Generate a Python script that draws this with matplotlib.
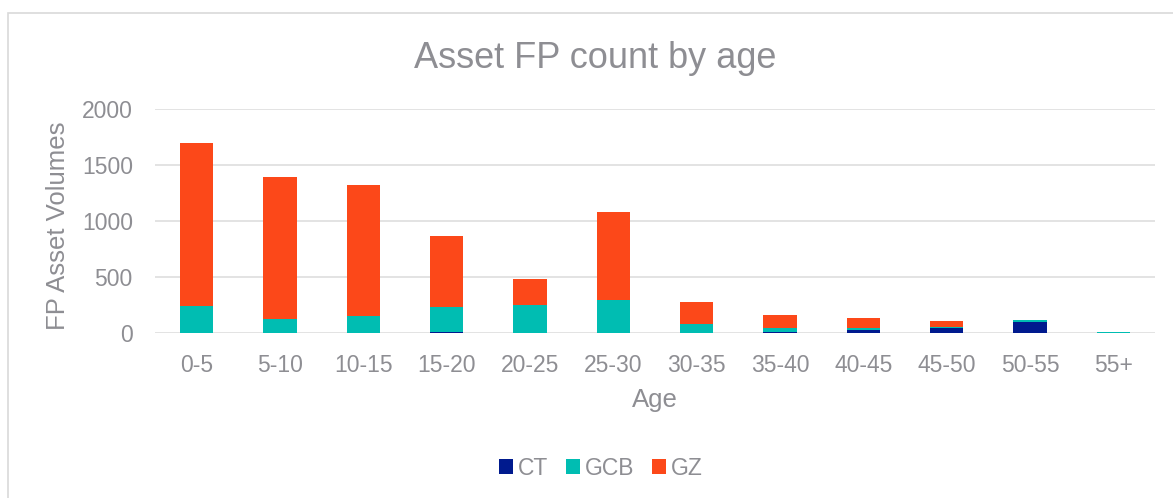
import matplotlib
matplotlib.use("Agg")
import matplotlib.pyplot as plt
import numpy as np
from matplotlib.patches import Rectangle

categories = ["0-5", "5-10", "10-15", "15-20", "20-25", "25-30",
              "30-35", "35-40", "40-45", "45-50", "50-55", "55+"]
ct = [0, 0, 0, 8, 0, 0, 0, 10, 24, 48, 98, 0]
gcb = [245, 125, 155, 227, 253, 295, 83, 38, 18, 3, 21, 5]
gz = [1455, 1270, 1170, 631, 232, 785, 191, 110, 89, 59, 0, 0]
series_names = ["CT", "GCB", "GZ"]
colors = ["#001A8E", "#00BDB2", "#FC4819"]
yticks = [0, 500, 1000, 1500, 2000]

plt.rcParams['font.family'] = ['Liberation Sans', 'DejaVu Sans']
txt = "#8E8E93"
grid = "#E0E0E0"

W, H = 1173, 498
fig = plt.figure(figsize=(W / 100, H / 100), dpi=100)

# outer chart border
fig.patches.append(Rectangle((8 / W, -0.1), 1.2, 1 - 13 / H + 0.1,
                             transform=fig.transFigure, fill=False,
                             edgecolor="#D9D9D9", linewidth=1.2))

ax = fig.add_axes([155 / W, 1 - 333 / H, 1000 / W, (333 - 109) / H])
x = np.arange(len(categories))
bottom = np.zeros(len(categories))
for vals, name, c in zip([ct, gcb, gz], series_names, colors):
    vals = np.array(vals, dtype=float)
    ax.bar(x, vals, width=0.4, bottom=bottom, color=c, label=name, zorder=3)
    bottom += vals

ax.set_xlim(-0.5, len(categories) - 0.5)
ax.set_ylim(0, 2000)
ax.set_yticks(yticks)
ax.set_xticks(x)
ax.set_xticklabels(categories)
ax.tick_params(axis='both', length=0, labelsize=16.5, labelcolor=txt)
ax.tick_params(axis='x', pad=15)
ax.tick_params(axis='y', pad=16)
for s in ax.spines.values():
    s.set_visible(False)
ax.grid(axis='y', color=grid, linewidth=1.3, zorder=0)
ax.set_axisbelow(True)

fig.text(595 / W, 1 - 68 / H, "Asset FP count by age", ha='center', va='baseline',
         fontsize=26, color=txt)
fig.text(58 / W, 1 - 226 / H, "FP Asset Volumes", rotation=90, ha='center', va='center',
         fontsize=18.5, color=txt)
fig.text(655 / W, 1 - 400 / H, "Age", ha='center', va='center', fontsize=18.5, color=txt)

handles, labels = ax.get_legend_handles_labels()
leg = fig.legend(handles, labels, loc='center', bbox_to_anchor=(601 / W, 1 - 468 / H),
                 ncol=3, frameon=False, fontsize=16.5, handlelength=0.6, handleheight=0.6,
                 handletextpad=0.2, columnspacing=0.8, labelcolor=txt)

fig.savefig("out.png", dpi=100)
